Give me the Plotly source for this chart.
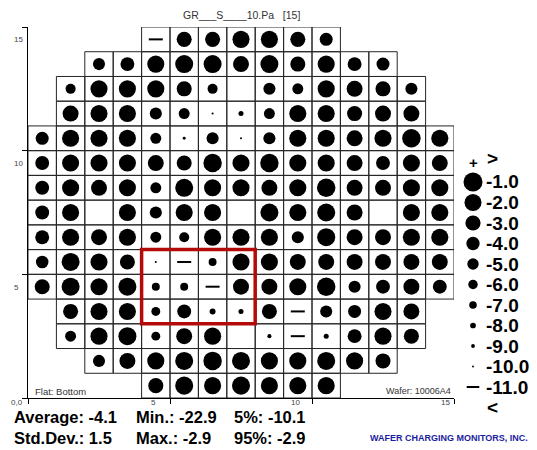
import plotly.graph_objects as go

FONT = "Liberation Sans, Arial, sans-serif"

TITLE = "GR___S____10.Pa   [15]"
N_COLS = 15
N_ROWS = 15

# Wafer rows from top (y=14) to bottom (y=0): first column index and cell values (None = empty cell)
row_y = [14, 13, 12, 11, 10, 9, 8, 7, 6, 5, 4, 3, 2, 1, 0]
row_first_col = [4, 2, 1, 1, 0, 0, 0, 0, 0, 0, 0, 1, 1, 2, 4]
row_values = [
    [-13.0, -4.4, -4.4, -3.5, -3.5, -4.4, -5.3],
    [-5.7, -4.9, -3.5, -3.1, -3.1, -4.0, -3.1, -4.4, -3.5, -4.9, -5.3],
    [-6.6, -3.5, -3.5, -3.5, -4.4, -6.6, None, -5.7, -6.2, -3.5, -4.0, -4.4, -5.7],
    [-4.0, -3.5, -3.5, -5.7, -6.2, -10.1, -8.8, -6.2, -3.5, -3.5, -4.4, -4.0, -4.0],
    [-5.3, -3.5, -3.5, -3.5, -6.2, -9.7, -5.7, -10.1, -5.7, -3.5, -3.5, -4.0, -3.5, -2.9, -3.5],
    [-4.9, -3.5, -3.5, -3.5, -4.0, -4.4, -2.9, -3.5, -2.9, -3.5, -3.5, -4.0, -4.9, -3.5, -4.0],
    [-4.9, -3.5, -4.0, -3.5, -6.2, -3.1, -3.5, -3.5, -4.0, -3.5, -2.9, -4.0, -4.0, -3.5, -3.5],
    [-4.9, -3.5, None, -3.5, -5.7, -3.5, -3.5, None, -3.1, -3.5, -3.1, -4.0, None, -3.5, -3.5],
    [-4.9, -3.5, -4.0, -3.5, -6.2, -6.6, -3.5, -3.5, -3.5, -5.7, -3.1, -4.0, -4.0, -3.5, -3.5],
    [-5.5, -3.1, -3.5, -4.4, -10.1, -11.6, -7.5, -3.5, -3.5, -4.0, -4.0, -4.0, -4.0, -4.0, -4.0],
    [-4.4, -3.1, -3.5, -3.1, -7.5, -7.5, -12.4, -4.0, -4.0, -3.5, -2.9, -5.7, -4.9, -4.0, -4.9],
    [-4.4, -3.5, -3.5, -7.1, -4.9, -8.4, -8.8, -4.4, -22.9, -5.7, -5.3, -3.5, -4.0],
    [-6.2, -3.5, -3.1, -7.1, -4.0, -3.5, None, -9.2, -13.8, -8.8, -4.9, -3.5, -4.4],
    [-5.7, -4.0, -3.5, -3.1, -2.9, -3.1, -3.5, -3.5, -3.1, -3.5, -4.4],
    [-4.4, -3.1, -3.5, -3.1, -3.5, -3.5, -3.5],
]

# highlighted block (columns, rows)
box_cols = [4, 8]
box_rows = [3, 6]

# legend
legend_levels = [-1.0, -2.0, -3.0, -4.0, -5.0, -6.0, -7.0, -8.0, -9.0, -10.0, -11.0]
LOW_LIMIT = -11.0

axis_ticks = [0, 5, 10, 15]
x_tick_labels = ["0,0", "5", "10", "15"]
x_label_gap = [3, 12, 10, 2]          # label right edge, px left of tick
y_tick_labels = ["", "5", "10", "15"]

stats_row1 = ["Average: -4.1", "Min.: -22.9", "5%: -10.1"]
stats_row2 = ["Std.Dev.: 1.5", "Max.: -2.9", "95%: -2.9"]
flat_text = "Flat: Bottom"
wafer_text = "Wafer: 10006A4"
company = "WAFER CHARGING MONITORS, INC."

# geometry of the page (pixels)
W, H = 537, 450
ML, MT, MB = 28, 27, 52
GRID_W = 426                      # width of the wafer grid
PW, PH = W - ML, H - MT - MB      # whole plotting region (grid + legend strip)
CELL_W, CELL_H = GRID_W / N_COLS, PH / N_ROWS
GRID_FRAC = GRID_W / PW


def px_x(px):
    return (px - ML) / PW


def px_y(py):
    return (H - MB - py) / PH


def map_size(v):
    return 2.28 * (v - LOW_LIMIT)


def legend_size(v):
    return 1.9 * (v - LOW_LIMIT)


def text_ann(px, py, txt, size, anchor="left", color="black", bold=False):
    return dict(x=px_x(px), y=px_y(py), xref="paper", yref="paper", text=txt,
                showarrow=False, xanchor=anchor, yanchor="middle",
                font=dict(family=FONT, size=size, color=color,
                          weight="bold" if bold else "normal"))


shapes = []
cx, cy, cs = [], [], []
dash_x, dash_y = [], []
for y, c0, vals in zip(row_y, row_first_col, row_values):
    for i, v in enumerate(vals):
        c = c0 + i
        shapes.append(dict(type="rect", x0=c, x1=c + 1, y0=y, y1=y + 1,
                           xref="x", yref="y", layer="below",
                           line=dict(color="#262626", width=1),
                           fillcolor="rgba(0,0,0,0)"))
        if v is None:
            continue
        if v <= LOW_LIMIT:
            dash_x.append(c + 0.5)
            dash_y.append(y + 0.5)
        else:
            cx.append(c + 0.5)
            cy.append(y + 0.5)
            cs.append(map_size(v))

shapes.append(dict(type="rect", x0=box_cols[0], x1=box_cols[1], y0=box_rows[0], y1=box_rows[1],
                   xref="x", yref="y", layer="above",
                   line=dict(color="#b40a0a", width=3.5), fillcolor="rgba(0,0,0,0)"))

fig = go.Figure()
fig.add_trace(go.Scatter(x=cx, y=cy, mode="markers", hoverinfo="skip",
                         marker=dict(size=cs, color="black", opacity=1, line=dict(width=0))))
fig.add_trace(go.Scatter(x=dash_x, y=dash_y, mode="markers", hoverinfo="skip",
                         marker=dict(symbol="line-ew", size=10, color="black", opacity=1,
                                     line=dict(width=2, color="black"))))

# legend: its own pixel-unit axes in the strip right of the grid
LEG_X, LEG_Y0, LEG_STEP = 473, 182, 20.5
GRID_RIGHT = ML + GRID_W
leg_x, leg_y, leg_s = [], [], []
leg_dash_x, leg_dash_y = [], []
annotations = []
for k, lv in enumerate(legend_levels):
    py = LEG_Y0 + k * LEG_STEP
    if lv <= LOW_LIMIT:
        leg_dash_x.append(LEG_X - GRID_RIGHT)
        leg_dash_y.append(H - MB - py)
    else:
        leg_x.append(LEG_X - GRID_RIGHT)
        leg_y.append(H - MB - py)
        leg_s.append(legend_size(lv))
    annotations.append(text_ann(484, py, f"{lv:.1f}", 19, bold=True))
fig.add_trace(go.Scatter(x=leg_x, y=leg_y, mode="markers", hoverinfo="skip",
                         xaxis="x2", yaxis="y2",
                         marker=dict(size=leg_s, color="black", opacity=1, line=dict(width=0))))
fig.add_trace(go.Scatter(x=leg_dash_x, y=leg_dash_y, mode="markers", hoverinfo="skip",
                         xaxis="x2", yaxis="y2",
                         marker=dict(symbol="line-ew", size=9, color="black", opacity=1,
                                     line=dict(width=2, color="black"))))

annotations.append(text_ann(473, 163, "+", 15, anchor="center", bold=True))
annotations.append(text_ann(492, 158, "&gt;", 19, anchor="center", bold=True))
annotations.append(text_ann(492, 407, "&lt;", 19, anchor="center", bold=True))

# title
annotations.append(text_ann(ML + GRID_W / 2, 15, TITLE, 10.5, anchor="center", color="#333333"))

# axis labels
for t, lab in zip(axis_ticks, y_tick_labels):
    if lab:
        annotations.append(text_ann(12, H - MB - t * CELL_H + 13, lab, 8, color="#444444"))
for t, lab, gap in zip(axis_ticks, x_tick_labels, x_label_gap):
    annotations.append(text_ann(ML + t * CELL_W - gap, 403, lab, 8, anchor="right", color="#444444"))

# flat / wafer
annotations.append(text_ann(33, 391, flat_text, 9.5, color="#333333"))
annotations.append(text_ann(453, 391, wafer_text, 9, anchor="right", color="#333333"))

# statistics
stat_x = [12, 134, 232]
for row_txt, py in ((stats_row1, 417), (stats_row2, 438)):
    for sx, txt in zip(stat_x, row_txt):
        annotations.append(text_ann(sx, py, txt, 16.5, bold=True))
annotations.append(text_ann(368, 438, company, 9, color="#1c1c9e", bold=True))

axis_common = dict(showline=True, linecolor="black", linewidth=1, ticks="outside", ticklen=5,
                   tickcolor="black", tickwidth=1, tickvals=axis_ticks, showticklabels=False,
                   showgrid=False, zeroline=False, fixedrange=True)
hidden = dict(visible=False, showgrid=False, zeroline=False, fixedrange=True)

fig.update_layout(
    width=W, height=H,
    margin=dict(l=ML, r=0, t=MT, b=MB, pad=0),
    paper_bgcolor="white", plot_bgcolor="white",
    showlegend=False,
    xaxis=dict(range=[0, N_COLS], domain=[0, GRID_FRAC], anchor="y", **axis_common),
    yaxis=dict(range=[0, N_ROWS], domain=[0, 1], anchor="x", **axis_common),
    xaxis2=dict(range=[0, W - GRID_RIGHT], domain=[GRID_FRAC, 1], anchor="y2", **hidden),
    yaxis2=dict(range=[0, PH], domain=[0, 1], anchor="x2", **hidden),
    shapes=shapes,
    annotations=annotations,
)

fig.write_html("out.html", config={"displayModeBar": False},
               post_script="document.body.style.margin='0';document.body.style.overflow='hidden';")
